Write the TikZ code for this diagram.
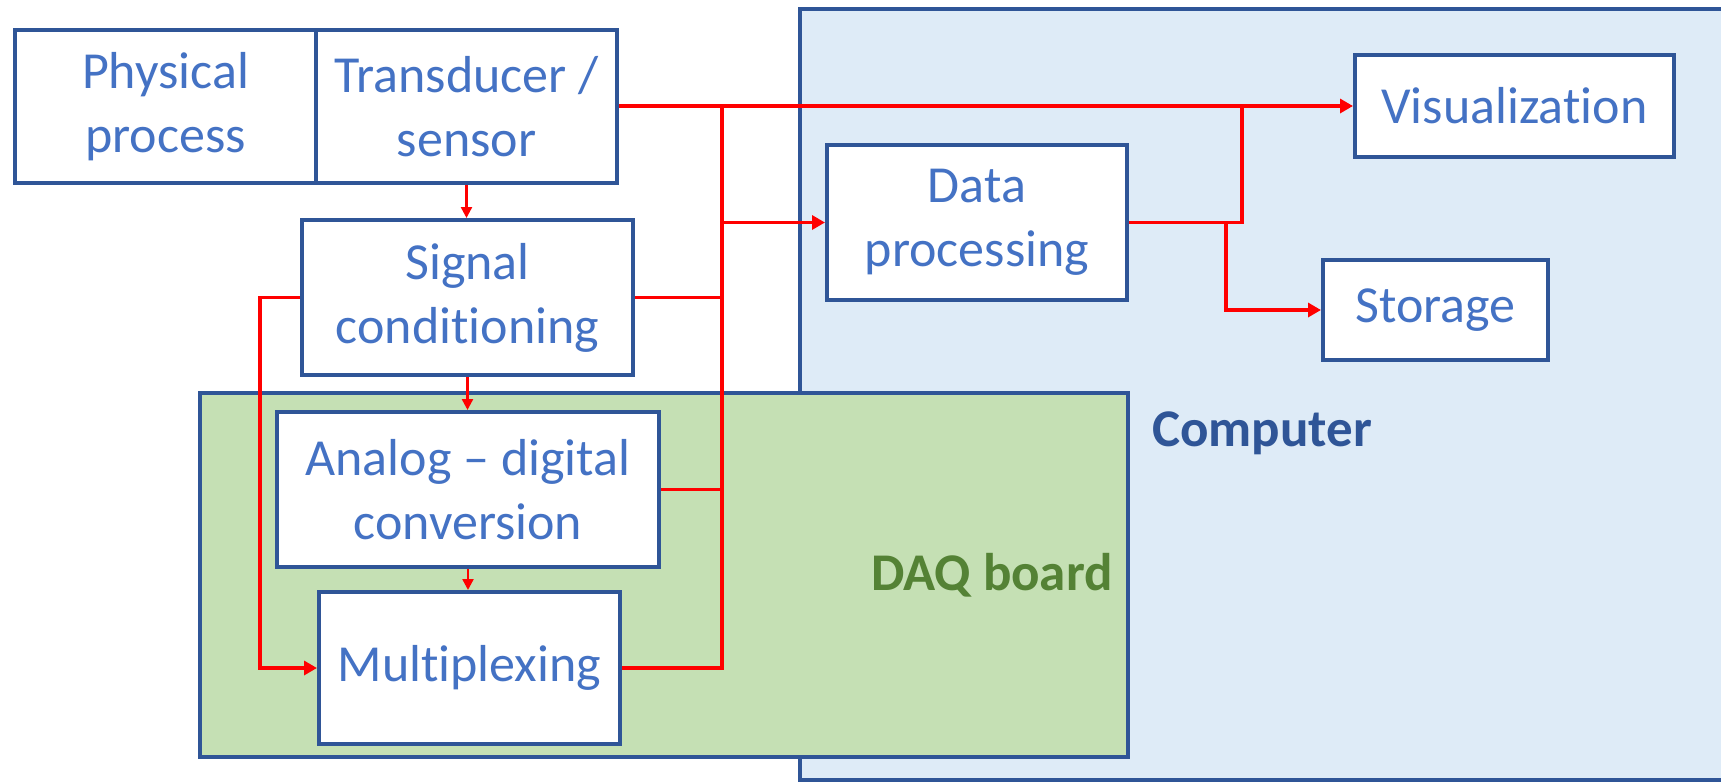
\documentclass[tikz,border=0pt]{standalone}
\usepackage{fontspec}
\setmainfont{Carlito}[Ligatures=NoCommon]
\usetikzlibrary{arrows.meta}
\usetikzlibrary{positioning}
\definecolor{boxblue}{HTML}{2F5597}
\definecolor{textblue}{HTML}{4472C4}
\definecolor{compfill}{HTML}{DEEBF7}
\definecolor{daqfill}{HTML}{C5E0B4}
\definecolor{daqgreen}{HTML}{548235}
\tikzset{>=stealth}
\tikzset{
  blockbox/.style={draw=boxblue, line width=2pt, fill=white, text=textblue,
    align=center, inner sep=0pt, font=\fontsize{26}{32}\selectfont},
  areabox/.style={draw=boxblue, line width=1.8pt},
  wire/.style={draw=red, line width=1.7pt},
  bigarrow/.style={wire, -{Triangle[length=6.5pt,width=7pt]}},
  smallarrow/.style={draw=red, line width=1.2pt, -{Triangle[length=5.5pt,width=5.5pt]}},
  arealabel/.style={font=\fontsize{26.5}{31}\selectfont\bfseries, anchor=base}
}

\begin{document}
\begin{tikzpicture}[x=0.5pt,y=-0.5pt]
\useasboundingbox (0,0) rectangle (1721,783);

% computer and DAQ board areas
\begin{scope}
\clip (0,0) rectangle (1721,783);
\draw[areabox, fill=compfill] (800,9) rectangle (1740,780);
\end{scope}
\draw[areabox, fill=daqfill] (200,393) rectangle (1128,757);
\node[arealabel, text=boxblue] (complabel) at (1262,446) {Computer};
\node[arealabel, text=daqgreen] (daqlabel) at (992,590) {DAQ board};

% blocks
\node[blockbox, minimum width=150.5pt, minimum height=76.5pt] (phys) at (165.5,106.5) {Physical\\process};
\node[blockbox, minimum width=150.5pt, minimum height=76.5pt] (trans) at (466.5,106.5) {Transducer /\\sensor};
\node[blockbox, minimum width=165.5pt, minimum height=77.5pt] (signal) at (467.5,297.5) {Signal\\conditioning};
\node[blockbox, minimum width=191pt, minimum height=77.5pt] (adc) at (468,489.5) {Analog -- digital\\conversion};
\node[blockbox, minimum width=150.5pt, minimum height=76pt] (mux) at (469.5,668) {Multiplexing};
\node[blockbox, minimum width=150pt, minimum height=77.5pt] (data) at (977,222.5) {Data\\processing};
\node[blockbox, minimum width=159.5pt, minimum height=51pt] (vis) at (1514.5,106) {Visualization};
\node[blockbox, minimum width=112.5pt, minimum height=50pt] (storage) at (1435.5,310) {Storage};

% junction points
\coordinate (bus) at (722,106);
\coordinate (up) at (1242,106);
\coordinate (down) at (1226,222.5);

% chain of small arrows
\draw[smallarrow] (trans.south) -- (trans.south |- signal.north);
\draw[smallarrow] (signal.south) -- (signal.south |- adc.north);
\draw[smallarrow] (adc.south) -- (adc.south |- mux.north);

% bus to the computer
\draw[bigarrow] (trans.east |- bus) -- (vis.west |- bus);
\draw[wire] (bus) |- (mux.east);
\draw[wire] (signal.east) -- (signal.east -| bus);
\draw[wire] (adc.east) -- (adc.east -| bus);
\draw[bigarrow] (bus |- data.west) -- (data.west);
\draw[bigarrow] (signal.west) -- ++(-40,0) |- (mux.west);

% data processing outputs
\draw[wire] (data.east) -| (up);
\draw[bigarrow] (down) |- (storage.west);
\end{tikzpicture}
\end{document}
